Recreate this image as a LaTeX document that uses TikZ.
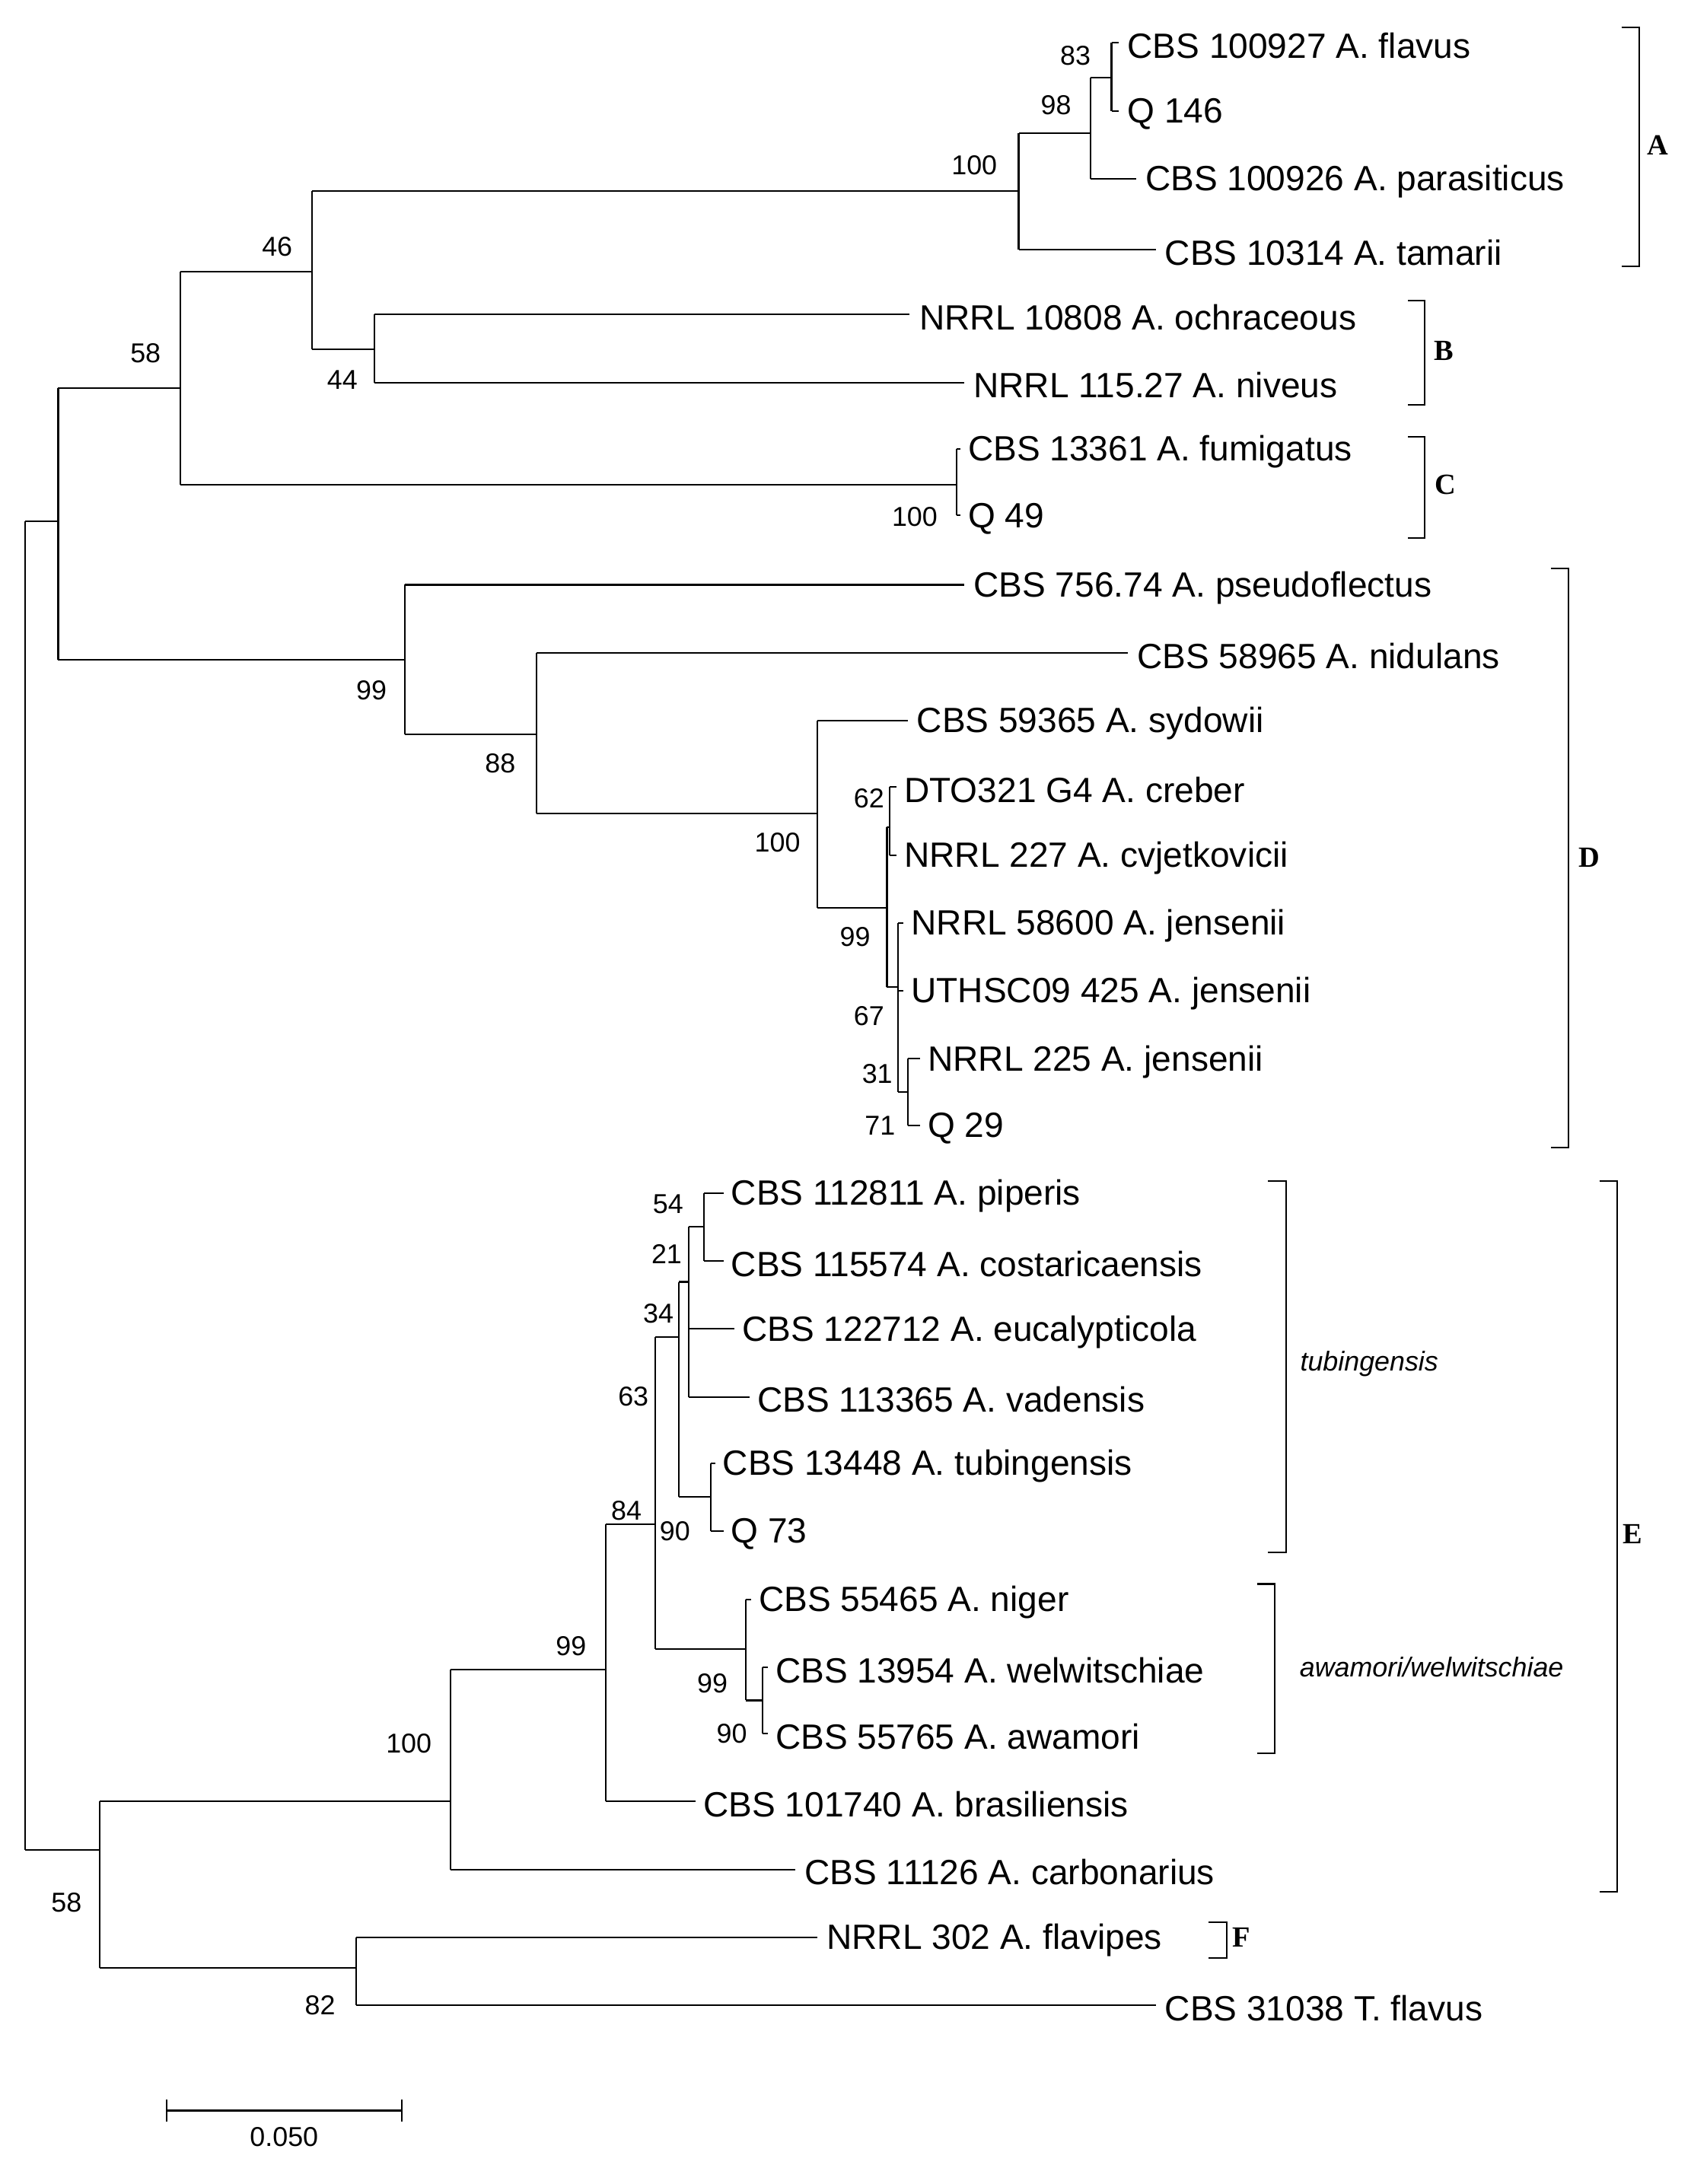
\documentclass[tikz,border=0pt]{standalone}
\usepackage{fontspec}
\setmainfont{Liberation Sans}
\newfontfamily\serifb{Liberation Serif}
\begin{document}
\begin{tikzpicture}[x=0.05cm,y=-0.05cm,line width=1.6pt,
 leaf/.style={anchor=west,inner sep=0pt,yshift=-3pt,font=\fontsize{36}{40}\selectfont},
 bs/.style={inner sep=0pt,font=\fontsize{28}{32}\selectfont},
 grp/.style={inner sep=0pt,font=\fontsize{30}{34}\selectfont\serifb\bfseries},
 grpi/.style={inner sep=0pt,font=\fontsize{28}{32}\selectfont\itshape}]
\fill[white] (0,0) rectangle (1220,1576);
\useasboundingbox (0,0) rectangle (1220,1576);
% leaves
\node[leaf] (l1) at (813,31) {CBS 100927 A. flavus};
\node[leaf] (l2) at (813,80) {Q 146};
\node[leaf] (l3) at (826,129) {CBS 100926 A. parasiticus};
\node[leaf] (l4) at (840,180) {CBS 10314 A. tamarii};
\node[leaf] (l5) at (663,227) {NRRL 10808 A. ochraceous};
\node[leaf] (l6) at (702,276) {NRRL 115.27 A. niveus};
\node[leaf] (l7) at (698,324) {CBS 13361 A. fumigatus};
\node[leaf] (l8) at (698,372) {Q 49};
\node[leaf] (l9) at (702,422) {CBS 756.74 A. pseudoflectus};
\node[leaf] (l10) at (820,471) {CBS 58965 A. nidulans};
\node[leaf] (l11) at (661,520) {CBS 59365 A. sydowii};
\node[leaf] (l12) at (652,568) {DTO321 G4 A. creber};
\node[leaf] (l13) at (652,617) {NRRL 227 A. cvjetkovicii};
\node[leaf] (l14) at (657,666) {NRRL 58600 A. jensenii};
\node[leaf] (l15) at (657,715) {UTHSC09 425 A. jensenii};
\node[leaf] (l16) at (669,764) {NRRL 225 A. jensenii};
\node[leaf] (l17) at (669,812) {Q 29};
\node[leaf] (l18) at (527,861) {CBS 112811 A. piperis};
\node[leaf] (l19) at (527,910) {CBS 115574 A. costaricaensis};
\node[leaf] (l20) at (535,959) {CBS 122712 A. eucalypticola};
\node[leaf] (l21) at (546,1008) {CBS 113365 A. vadensis};
\node[leaf] (l22) at (521,1056) {CBS 13448 A. tubingensis};
\node[leaf] (l23) at (527,1105) {Q 73};
\node[leaf] (l24) at (547,1154) {CBS 55465 A. niger};
\node[leaf] (l25) at (559,1203) {CBS 13954 A. welwitschiae};
\node[leaf] (l26) at (559,1251) {CBS 55765 A. awamori};
\node[leaf] (l27) at (507,1300) {CBS 101740 A. brasiliensis};
\node[leaf] (l28) at (580,1349) {CBS 11126 A. carbonarius};
\node[leaf] (l29) at (596,1398) {NRRL 302 A. flavipes};
\node[leaf] (l30) at (840,1447) {CBS 31038 T. flavus};
% tree
\draw (18,376)--(18,1335) (18,376)--(42,376) (18,1335)--(72,1335);
\draw (42,280)--(42,476) (42,280)--(130,280) (42,476)--(292,476);
\draw (130,196)--(130,350) (130,196)--(225,196) (130,350)--(690,350);
\draw (225,138)--(225,252) (225,138)--(735,138) (225,252)--(270,252);
\draw (735,96)--(735,180) (735,96)--(787,96) (735,180)--(834,180);
\draw (787,56)--(787,129) (787,56)--(802,56) (787,129)--(820,129);
\draw (802,31)--(802,80) (802,31)--(807,31) (802,80)--(807,80);
\draw (270,227)--(270,276) (270,227)--(656,227) (270,276)--(696,276);
\draw (690,324)--(690,372) (690,324)--(693,324) (690,372)--(693,372);
\draw (292,422)--(292,530) (292,422)--(696,422) (292,530)--(387,530);
\draw (387,471)--(387,587) (387,471)--(814,471) (387,587)--(590,587);
\draw (590,520)--(590,655) (590,520)--(655,520) (590,655)--(640,655);
\draw (640,597)--(640,712) (640,597)--(642,597) (642,568)--(642,617) (642,568)--(647,568) (642,617)--(647,617);
\draw (640,712)--(648,712) (648,666)--(648,788) (648,666)--(652,666) (648,715)--(652,715) (648,788)--(655,788);
\draw (655,764)--(655,812) (655,764)--(664,764) (655,812)--(664,812);
\draw (72,1300)--(72,1420) (72,1300)--(325,1300) (72,1420)--(257,1420);
\draw (325,1205)--(325,1349) (325,1205)--(437,1205) (325,1349)--(574,1349);
\draw (437,1100)--(437,1300) (437,1100)--(473,1100) (437,1300)--(502,1300);
\draw (473,965)--(473,1190) (473,965)--(490,965) (473,1190)--(538,1190);
\draw (490,925)--(490,1080) (490,925)--(497,925) (490,1080)--(513,1080);
\draw (497,885)--(497,1008) (497,885)--(508,885) (497,959)--(530,959) (497,1008)--(541,1008);
\draw (508,861)--(508,910) (508,861)--(522,861) (508,910)--(522,910);
\draw (513,1056)--(513,1105) (513,1056)--(516,1056) (513,1105)--(522,1105);
\draw (538,1154)--(538,1227) (538,1154)--(542,1154) (538,1227)--(550,1227);
\draw (550,1203)--(550,1251) (550,1203)--(554,1203) (550,1251)--(554,1251);
\draw (257,1398)--(257,1447) (257,1398)--(590,1398) (257,1447)--(834,1447);
% bootstrap
\node[bs] (b1) at (776,40) {83};
\node[bs] (b2) at (762,76) {98};
\node[bs] (b3) at (703,119) {100};
\node[bs] (b4) at (200,178) {46};
\node[bs] (b5) at (247,274) {44};
\node[bs] (b6) at (105,255) {58};
\node[bs] (b7) at (660,373) {100};
\node[bs] (b8) at (268,498) {99};
\node[bs] (b9) at (361,551) {88};
\node[bs] (b10) at (561,608) {100};
\node[bs] (b11) at (627,576) {62};
\node[bs] (b12) at (617,676) {99};
\node[bs] (b13) at (627,733) {67};
\node[bs] (b14) at (633,775) {31};
\node[bs] (b15) at (635,812) {71};
\node[bs] (b16) at (482,869) {54};
\node[bs] (b17) at (481,905) {21};
\node[bs] (b18) at (475,948) {34};
\node[bs] (b19) at (457,1008) {63};
\node[bs] (b20) at (452,1090) {84};
\node[bs] (b21) at (487,1105) {90};
\node[bs] (b22) at (412,1188) {99};
\node[bs] (b23) at (295,1258) {100};
\node[bs] (b24) at (514,1215) {99};
\node[bs] (b25) at (528,1251) {90};
\node[bs] (b26) at (48,1373) {58};
\node[bs] (b27) at (231,1447) {82};
% brackets
\draw (1170,20)--(1183,20)--(1183,192)--(1170,192);
\node[grp] (gA) at (1196,105) {A};
\draw (1016,217)--(1028,217)--(1028,292)--(1016,292);
\node[grp] (gB) at (1042,253) {B};
\draw (1016,315)--(1028,315)--(1028,388)--(1016,388);
\node[grp] (gC) at (1043,350) {C};
\draw (1119,410)--(1132,410)--(1132,828)--(1119,828);
\node[grp] (gD) at (1147,619) {D};
\draw (915,852)--(928,852)--(928,1120)--(915,1120);
\node[grpi] (gt) at (988,984) {tubingensis};
\draw (907,1143)--(920,1143)--(920,1265)--(907,1265);
\node[grpi] (gaw) at (1033,1203) {awamori/welwitschiae};
\draw (1154,852)--(1167,852)--(1167,1365)--(1154,1365);
\node[grp] (gE) at (1178,1107) {E};
\draw (872,1387)--(885,1387)--(885,1413)--(872,1413);
\node[grp] (gF) at (896,1398) {F};
% scale
\draw (120,1523)--(290,1523) (120,1515)--(120,1531) (290,1515)--(290,1531);
\node[bs] (sc) at (205,1542) {0.050};
\end{tikzpicture}
\end{document}
